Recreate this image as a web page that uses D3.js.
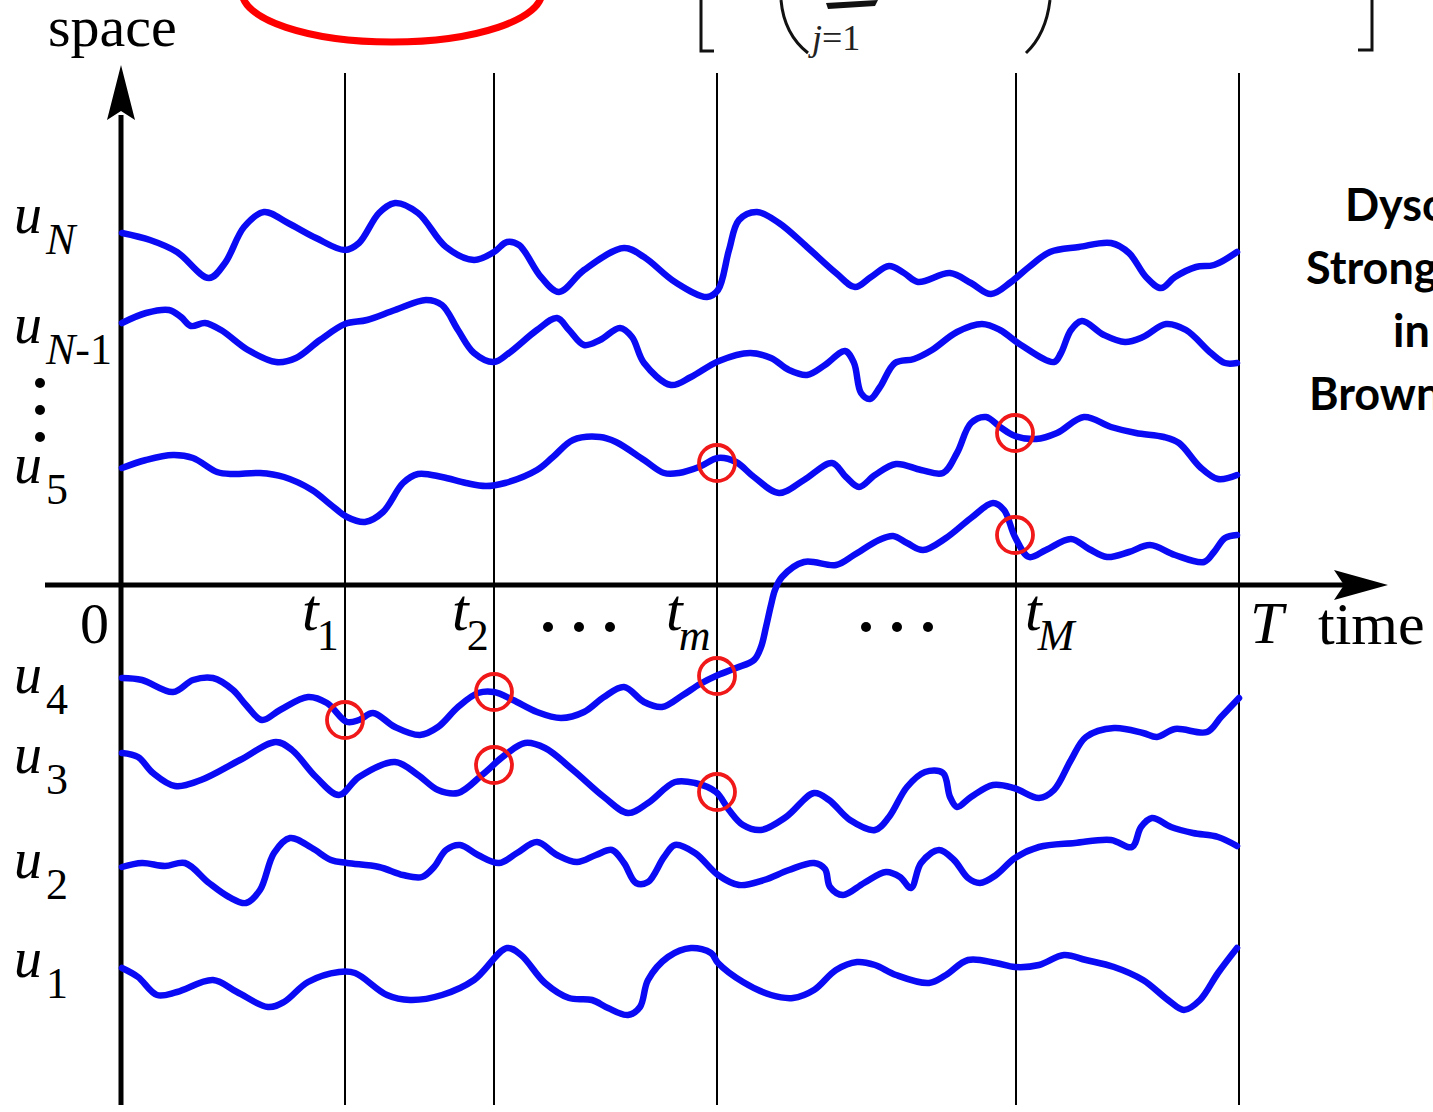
<!DOCTYPE html>
<html>
<head>
<meta charset="utf-8">
<script src="https://cdn.jsdelivr.net/npm/d3@7"></script>
<style>
html,body{margin:0;padding:0;background:#fff;overflow:hidden;}
svg{display:block;}
</style>
</head>
<body>
<svg id="chart" width="1433" height="1112"></svg>
<script>
// ---------- DATA (time offset t, space value s) ----------
const tickNames = ["t1", "t2", "tm", "tM", "T"];
const tickTimes = [224, 373, 596, 895, 1118];
const pathNames = ["uN", "uN-1", "u5", "u4", "u3", "u2", "u1"];

const uN = [[1,352],[29,345],[56,333],[88,307],[104,322],[123,358],[143,373],[167,362],[195,347],[224,335],[238,342],[258,372],[274,382],[297,372],[325,338],[353,325],[373,333],[386,343],[398,340],[420,308],[438,293],[463,315],[503,337],[523,328],[554,303],[586,288],[597,295],[608,335],[618,365],[636,373],[658,362],[686,338],[715,312],[734,298],[750,308],[768,319],[783,312],[797,303],[829,312],[850,302],[870,291],[890,303],[908,318],[929,333],[958,338],[990,342],[1008,332],[1025,308],[1040,297],[1054,308],[1075,318],[1093,320],[1116,333]];
const uNm1 = [[1,262],[25,272],[48,275],[60,268],[70,259],[84,262],[100,255],[127,235],[155,223],[175,227],[199,245],[224,261],[246,265],[274,275],[305,285],[321,280],[337,255],[353,232],[373,223],[388,232],[416,255],[436,267],[448,255],[463,240],[479,245],[499,257],[511,248],[523,222],[550,200],[570,208],[598,224],[629,232],[650,227],[668,215],[686,210],[704,220],[724,234],[733,222],[740,192],[749,186],[759,198],[774,222],[793,226],[811,235],[836,253],[861,261],[879,255],[900,240],[933,223],[940,232],[950,255],[961,264],[983,250],[1004,243],[1022,248],[1045,261],[1065,255],[1090,232],[1104,222],[1116,222]];
const u5 = [[1,117],[25,125],[52,130],[72,127],[96,113],[112,111],[139,112],[163,108],[191,95],[210,80],[226,68],[244,63],[262,73],[282,102],[297,111],[321,108],[345,102],[365,99],[384,102],[416,115],[432,128],[452,145],[479,148],[495,143],[523,125],[543,112],[558,112],[578,118],[597,127],[615,123],[633,108],[658,92],[683,105],[711,122],[725,108],[738,98],[754,110],[775,121],[800,115],[822,112],[836,132],[850,162],[865,168],[879,158],[894,149],[915,146],[936,152],[963,168],[990,158],[1015,152],[1043,148],[1058,142],[1079,118],[1097,106],[1116,110]];
const u4 = [[1,-93],[21,-95],[52,-107],[72,-95],[92,-93],[112,-105],[125,-120],[141,-135],[159,-125],[187,-112],[206,-118],[226,-137],[238,-135],[252,-128],[274,-142],[299,-150],[317,-142],[337,-122],[357,-108],[373,-107],[392,-115],[416,-127],[440,-133],[463,-127],[483,-112],[503,-102],[523,-117],[541,-122],[562,-110],[579,-99],[597,-90],[615,-83],[633,-75],[640,-62],[645,-42],[650,-20],[654,-5],[661,8],[683,23],[715,20],[733,30],[758,45],[772,49],[786,42],[802,35],[825,47],[850,67],[872,82],[883,75],[894,48],[908,28],[925,35],[950,46],[968,36],[986,28],[1008,33],[1029,40],[1054,30],[1083,23],[1093,33],[1104,47],[1116,50]];
const u3 = [[1,-168],[17,-172],[32,-188],[54,-201],[80,-195],[119,-175],[155,-157],[171,-165],[195,-192],[218,-210],[238,-192],[274,-177],[297,-190],[317,-205],[337,-208],[361,-190],[384,-170],[404,-158],[424,-163],[452,-185],[483,-212],[507,-228],[527,-218],[554,-197],[574,-198],[595,-207],[608,-225],[622,-240],[640,-245],[665,-232],[693,-208],[708,-215],[729,-235],[754,-245],[768,-232],[786,-202],[804,-187],[822,-188],[829,-212],[836,-222],[850,-212],[872,-200],[893,-203],[918,-213],[933,-205],[950,-175],[965,-152],[993,-143],[1022,-148],[1036,-152],[1054,-144],[1086,-147],[1100,-132],[1118,-113]];
const u2 = [[1,-282],[21,-278],[44,-281],[64,-278],[88,-298],[108,-312],[125,-318],[139,-305],[153,-268],[169,-253],[191,-263],[210,-275],[226,-278],[258,-282],[282,-290],[301,-292],[313,-282],[325,-265],[339,-260],[357,-270],[378,-278],[396,-268],[416,-257],[436,-270],[456,-277],[475,-270],[491,-265],[503,-278],[515,-298],[527,-297],[543,-272],[554,-260],[574,-268],[597,-290],[618,-300],[643,-295],[668,-285],[693,-278],[704,-284],[709,-302],[722,-310],[743,-298],[765,-287],[779,-292],[790,-303],[800,-278],[818,-265],[833,-275],[847,-293],[859,-298],[875,-290],[894,-273],[918,-262],[954,-258],[990,-255],[1011,-262],[1020,-242],[1031,-233],[1050,-242],[1072,-248],[1097,-252],[1116,-261]];
const u1 = [[1,-383],[17,-392],[36,-410],[56,-407],[92,-395],[116,-407],[147,-422],[163,-417],[187,-397],[218,-387],[234,-388],[266,-410],[289,-415],[321,-410],[353,-395],[386,-363],[400,-370],[424,-398],[448,-413],[471,-415],[487,-423],[507,-430],[519,-422],[527,-395],[547,-372],[570,-363],[590,-368],[597,-378],[622,-397],[650,-410],[672,-413],[693,-405],[715,-385],[736,-377],[754,-380],[775,-390],[808,-398],[825,-390],[847,-375],[875,-378],[894,-382],[918,-380],[943,-370],[965,-375],[993,-382],[1022,-395],[1047,-415],[1063,-425],[1079,-415],[1097,-388],[1116,-363]];

// collision points (time, space) marked by red circles
const collisionTimes = [224, 373, 373, 596, 596, 596, 894, 894];
const collisionValues = [-135, -107, -180, -91, -207, 122, 152, 50];

// label anchor values for each path label (space value of label baseline)
const labelMain = ["u", "u", "u", "u", "u", "u", "u"];
const labelSub = ["N", "N-1", "5", "4", "3", "2", "1"];
const labelValues = [352, 242, 102, -108, -188, -293, -392];

const sideText = ["Dyson", "Strong", "in", "Brownian"];

// ---------- SCALES ----------
const svg = d3.select("#chart");
const x = d3.scaleLinear().domain([0, 1118]).range([121, 1239]);
const y = d3.scaleLinear().domain([-520, 520]).range([1105, 65]);

const serif = "'Liberation Serif','DejaVu Serif',serif";

// ---------- Top formula fragment ----------
const topG = svg.append("g");
topG.append("ellipse").attr("cx", 392).attr("cy", -8).attr("rx", 150).attr("ry", 50)
  .attr("fill", "none").attr("stroke", "#f00").attr("stroke-width", 7);
topG.append("path").attr("d", "M701,0 V51 H714").attr("fill", "none").attr("stroke", "#111").attr("stroke-width", 3);
topG.append("path").attr("d", "M1372,0 V50 H1358").attr("fill", "none").attr("stroke", "#111").attr("stroke-width", 3);
topG.append("path").attr("d", "M781,0 Q784,34 808,53").attr("fill", "none").attr("stroke", "#111").attr("stroke-width", 3);
topG.append("path").attr("d", "M1050,0 Q1046,34 1026,53").attr("fill", "none").attr("stroke", "#111").attr("stroke-width", 3);
topG.append("path").attr("d", "M826,3 L878,0 L875,6 L828,9 Z").attr("fill", "#111");
const jt = topG.append("text").attr("x", 812).attr("y", 50).attr("font-family", serif).attr("font-size", 36).attr("fill", "#222");
jt.append("tspan").attr("font-style", "italic").text("j");
jt.append("tspan").text("=1");

// ---------- Grid (time instants) ----------
svg.append("g").selectAll("line").data(tickTimes).join("line")
  .attr("x1", d => x(d)).attr("x2", d => x(d))
  .attr("y1", y(512)).attr("y2", y(-520))
  .attr("stroke", "#000").attr("stroke-width", 2);

// ---------- Axes ----------
svg.append("line").attr("x1", x(0)).attr("x2", x(0)).attr("y1", y(-520)).attr("y2", y(470))
  .attr("stroke", "#000").attr("stroke-width", 5);
svg.append("path").attr("d", `M${x(0)},${y(520)} L${x(0)+14},${y(465)} L${x(0)},${y(474)} L${x(0)-14},${y(465)} Z`).attr("fill", "#000");
svg.append("line").attr("x1", x(-76)).attr("x2", x(1225)).attr("y1", y(0)).attr("y2", y(0))
  .attr("stroke", "#000").attr("stroke-width", 5);
svg.append("path").attr("d", `M${x(1267)},${y(0)} L${x(1213)},${y(0)-15} L${x(1223)},${y(0)} L${x(1213)},${y(0)+15} Z`).attr("fill", "#000");

// ---------- Paths ----------
const paths = [uN, uNm1, u5, u4, u3, u2, u1];
const line = d3.line().x(d => x(d[0])).y(d => y(d[1])).curve(d3.curveCatmullRom.alpha(0.5));
svg.append("g").selectAll("path").data(paths).join("path")
  .attr("d", line).attr("fill", "none").attr("stroke", "#0a0af5")
  .attr("stroke-width", 6.5).attr("stroke-linejoin", "round").attr("stroke-linecap", "round");

// ---------- Collision circles ----------
svg.append("g").selectAll("circle").data(collisionTimes).join("circle")
  .attr("cx", d => x(d)).attr("cy", (d, i) => y(collisionValues[i])).attr("r", 18)
  .attr("fill", "none").attr("stroke", "#f01818").attr("stroke-width", 3.8);

// ---------- Axis labels ----------
svg.append("text").attr("x", 48).attr("y", 46).attr("font-family", serif).attr("font-size", 58).text("space");
svg.append("text").attr("x", 1318).attr("y", 644).attr("font-family", serif).attr("font-size", 60).text("time");
svg.append("text").attr("x", 80).attr("y", 643).attr("font-family", serif).attr("font-size", 58).text("0");

const tickDx = [-43, -42, -51, 9, 11];
tickNames.forEach((nm, i) => {
  const t = svg.append("text").attr("x", x(tickTimes[i]) + tickDx[i]).attr("y", 630)
    .attr("font-family", serif).attr("font-size", 60);
  if (nm === "T") {
    t.attr("y", 643).append("tspan").attr("font-style", "italic").text("T");
  } else {
    t.append("tspan").attr("font-style", "italic").text("t");
    const sub = nm.slice(1);
    const isNum = /\d/.test(sub);
    t.append("tspan").attr("dy", 20).attr("dx", isNum ? -2 : -4).attr("font-size", 44)
      .attr("font-style", isNum ? "normal" : "italic").text(sub);
  }
});
// ellipsis dots on the time axis
const dotGroups = [[548, 579, 610], [866, 897, 928]];
svg.append("g").selectAll("circle").data(dotGroups.flat()).join("circle")
  .attr("cx", d => d).attr("cy", 627).attr("r", 5).attr("fill", "#000");

// ---------- Path labels ----------
labelValues.forEach((v, i) => {
  const t = svg.append("text").attr("x", 14).attr("y", y(v)).attr("font-family", serif).attr("font-size", 56);
  t.append("tspan").attr("font-style", "italic").text(labelMain[i]);
  const sub = labelSub[i];
  const s = t.append("tspan").attr("dy", 21).attr("dx", 4).attr("font-size", 44);
  if (/^\d+$/.test(sub)) {
    s.text(sub);
  } else if (sub.indexOf("-") > 0) {
    s.append("tspan").attr("font-style", "italic").text("N");
    s.append("tspan").text("-1");
  } else {
    s.attr("font-style", "italic").text(sub);
  }
});
// vertical ellipsis between u_{N-1} and u_5
svg.append("g").selectAll("circle").data([383, 410, 437]).join("circle")
  .attr("cx", 40).attr("cy", d => d).attr("r", 5).attr("fill", "#000");

// ---------- Side text (cut off at right edge, as in the reference) ----------
const sideX = [1345, 1306, 1393, 1309];
const sideY = [221, 284, 347, 410];
sideText.forEach((s, i) => {
  svg.append("text").attr("x", sideX[i]).attr("y", sideY[i])
    .attr("font-family", "Lato, 'Open Sans', sans-serif").attr("font-weight", "bold")
    .attr("font-size", 45).attr("fill", "#000").text(s);
});
</script>
</body>
</html>
